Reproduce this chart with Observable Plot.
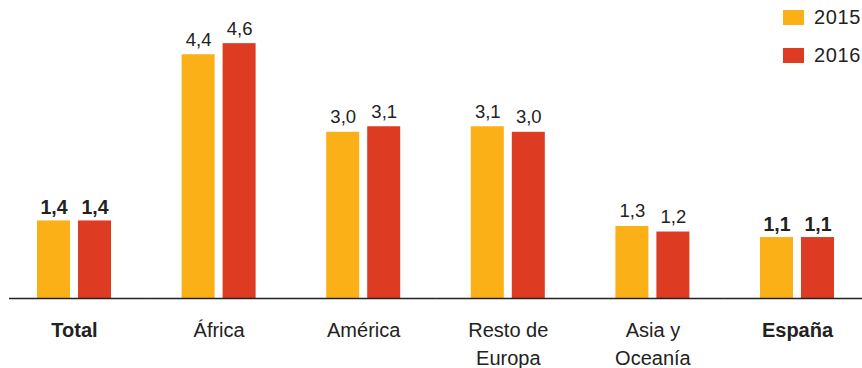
<!DOCTYPE html>
<html>
<head>
<meta charset="utf-8">
<script src="https://cdn.jsdelivr.net/npm/d3@7"></script>
<script src="https://cdn.jsdelivr.net/npm/@observablehq/plot@0.6"></script>
<style>
  html, body { margin: 0; padding: 0; background: #fff; }
  #wrap { position: relative; width: 862px; height: 368px; font-family: "Liberation Sans", Arial, sans-serif; }
  #legend { position: absolute; left: 783px; top: 0; }
  .item { position: absolute; left: 0; display: flex; align-items: center; white-space: nowrap; }
  .sw { width: 21px; height: 15px; margin-right: 10px; }
  .lab { font-size: 20px; color: #222; letter-spacing: 0.6px; }
</style>
</head>
<body>
<div id="wrap"><div id="legend"></div></div>
<script>
const categories = ["Total", "África", "América", "Resto de\nEuropa", "Asia y\nOceanía", "España"];
const years = ["2015", "2016"];
const values2015 = [1.4, 4.4, 3.0, 3.1, 1.3, 1.1];
const values2016 = [1.4, 4.6, 3.1, 3.0, 1.2, 1.1];
const boldCategories = ["Total", "España"];
const colors = ["#FCB017", "#DD3B22"];

const rows = [];
categories.forEach((c, i) => {
  rows.push({category: c, year: years[0], value: values2015[i]});
  rows.push({category: c, year: years[1], value: values2016[i]});
});
const fmt = d => d3.format(".1f")(d).replace(".", ",");
const isBold = c => boldCategories.includes(c);

const chart = Plot.plot({
  width: 862,
  height: 368,
  marginLeft: 9,
  marginRight: 0,
  marginTop: 21,
  marginBottom: 70,
  style: {fontFamily: "'Liberation Sans', Arial, sans-serif", background: "transparent", overflow: "visible"},
  fx: {domain: categories, paddingInner: 0.4, paddingOuter: 0.1495, round: false, axis: null, label: null},
  x: {domain: years, paddingInner: 0.195, paddingOuter: 0.1555, round: false, axis: null, label: null},
  y: {domain: [0, 5], axis: null},
  color: {domain: years, range: colors},
  marks: [
    Plot.barY(rows, {fx: "category", x: "year", y: "value", fill: "year"}),
    Plot.ruleY(categories.slice(1), {fx: d => d, y: () => 0, stroke: "#222", strokeWidth: 1.5, insetLeft: -29, insetRight: -29}),
    Plot.ruleY(categories.slice(0, 1), {fx: d => d, y: () => 0, stroke: "#222", strokeWidth: 1.5, insetLeft: -21.6, insetRight: -29}),
    Plot.text(rows.filter(d => !isBold(d.category)), {fx: "category", x: "year", y: "value", text: d => fmt(d.value), lineAnchor: "bottom", dy: -9, fontSize: 18.5, letterSpacing: "1.2px", fill: "#222"}),
    Plot.text(rows.filter(d => isBold(d.category)), {fx: "category", x: "year", y: "value", text: d => fmt(d.value), lineAnchor: "bottom", dy: -7, fontSize: 19.5, letterSpacing: "0.6px", fontWeight: "bold", fill: "#222"}),
    Plot.text(categories.filter(c => !isBold(c)), {fx: d => d, text: d => d, frameAnchor: "bottom", lineAnchor: "top", dy: 19, lineHeight: 1.4, fontSize: 20, letterSpacing: "0.7px", fill: "#222"}),
    Plot.text(categories.filter(c => isBold(c)), {fx: d => d, text: d => d, frameAnchor: "bottom", lineAnchor: "top", dy: 19, lineHeight: 1.4, fontSize: 20, letterSpacing: "0.4px", fontWeight: "bold", fill: "#222"})
  ]
});
document.getElementById("wrap").prepend(chart);

const legend = document.getElementById("legend");
years.forEach((y, i) => {
  const item = document.createElement("div");
  item.className = "item";
  item.style.top = (i === 0 ? 6 : 44) + "px";
  item.innerHTML = `<div class="sw" style="background:${colors[i]}"></div><span class="lab">${y}</span>`;
  legend.appendChild(item);
});
</script>
</body>
</html>
